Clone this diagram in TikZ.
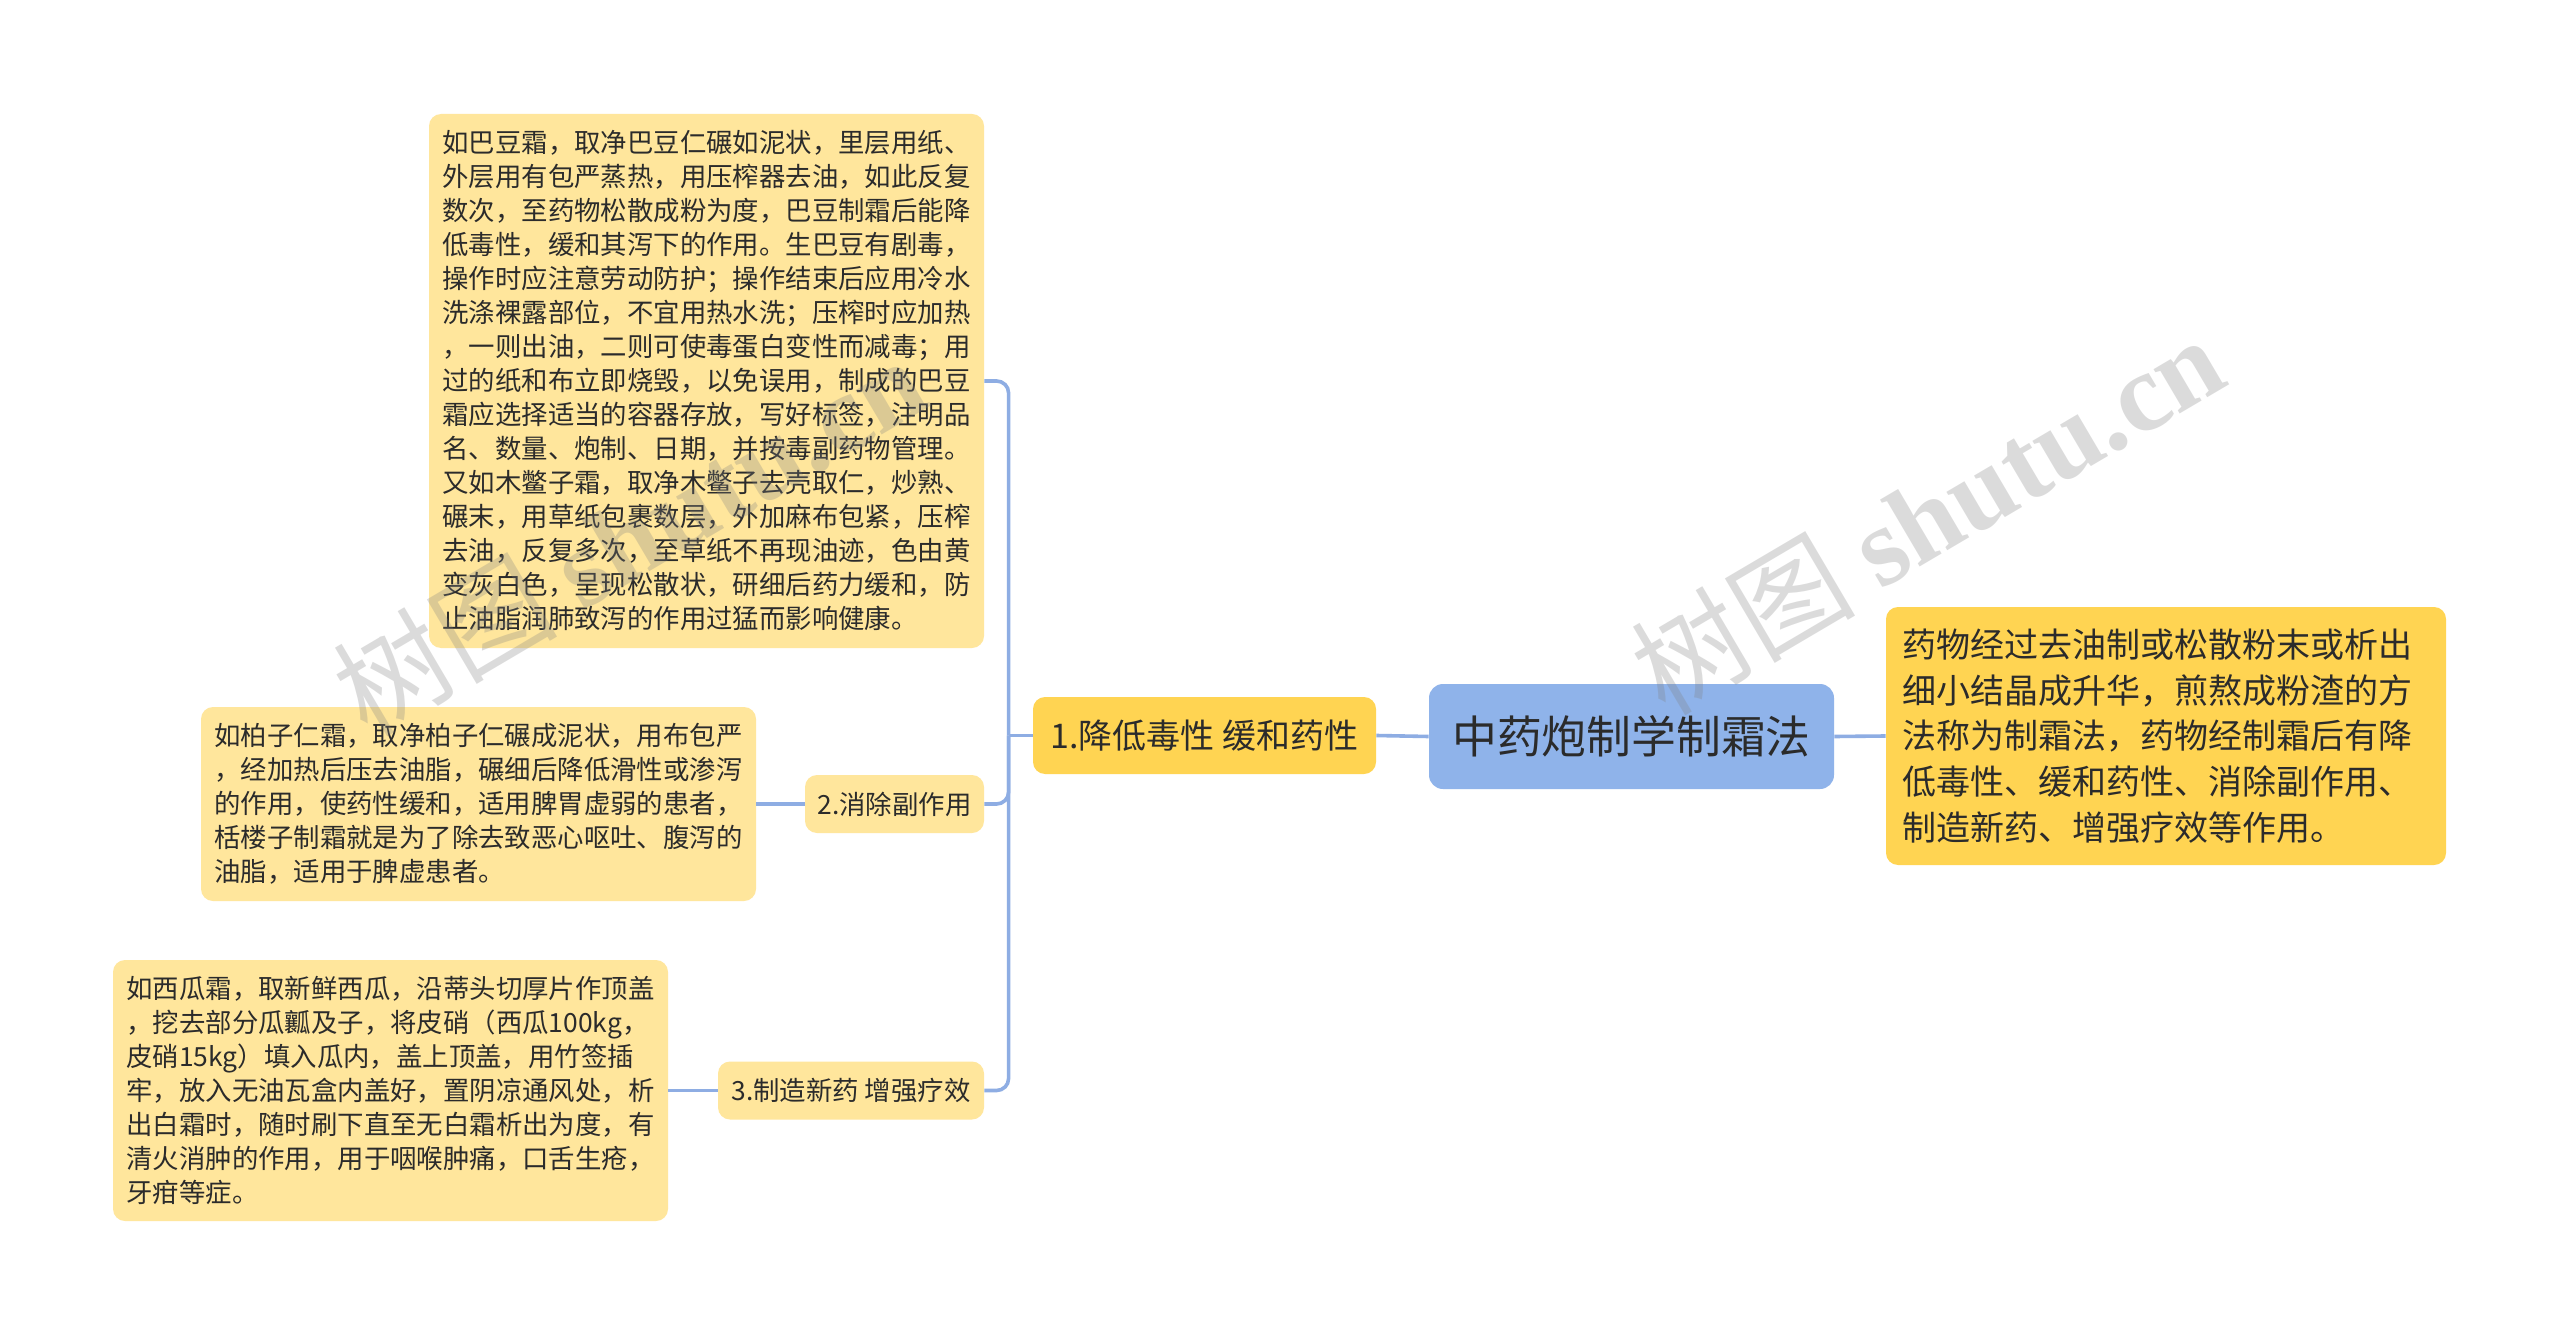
\documentclass[tikz,border=0pt]{standalone}
\usepackage{fontspec}
\setmainfont{Noto Sans CJK SC}
\newfontfamily\wmserif{Liberation Serif}
\usetikzlibrary{calc}

\definecolor{linkblue}{HTML}{8EADE3}
\definecolor{rootblue}{HTML}{8FB3EA}
\definecolor{goldfill}{HTML}{FFD452}
\definecolor{paleyellow}{HTML}{FFE69C}
\definecolor{inktext}{HTML}{2B2B2B}

\tikzset{
  link/.style={draw=linkblue, line width=1.8pt, rounded corners=6pt},
  rootbox/.style={rectangle, rounded corners=7pt, fill=rootblue, text=inktext,
    font=\fontsize{22.4}{26}\selectfont, minimum width=202.5pt, minimum height=52.5pt, inner sep=0pt},
  topicbox/.style={rectangle, rounded corners=6pt, fill=goldfill, text=inktext,
    font=\fontsize{17}{20}\selectfont, minimum width=171.5pt, minimum height=38.5pt, inner sep=0pt},
  subbox/.style={rectangle, rounded corners=6pt, fill=paleyellow, text=inktext,
    font=\fontsize{13.2}{16}\selectfont, minimum height=29pt, inner sep=0pt},
  notebox/.style={rectangle, rounded corners=6pt, fill=paleyellow, text=inktext,
    font=\fontsize{13.2}{17}\selectfont, align=left, text width=264pt, inner xsep=6.75pt, inner ysep=0pt},
  summarybox/.style={rectangle, rounded corners=6pt, fill=goldfill, text=inktext,
    font=\fontsize{17}{22.9}\selectfont, align=left, text width=264pt, inner xsep=8pt, inner ysep=0pt,
    minimum height=129pt},
  wmark/.style={text=gray, text opacity=0.28, rotate=30.5, font=\fontsize{56}{60}\selectfont}
}

\begin{document}
\begin{tikzpicture}[x=0.5pt, y=-0.5pt]
    \fill[white] (0,0) rectangle (2560,1337);
    \useasboundingbox (0,0) rectangle (2560,1337);

    % main topic and summary
    \node[rootbox] (root) at (1631.5,736.5) {中药炮制学制霜法};
    \node[summarybox] (summary) at (2166,736) {药物经过去油制或松散粉末或析出\\
      细小结晶成升华，煎熬成粉渣的方\\
      法称为制霜法，药物经制霜后有降\\
      低毒性、缓和药性、消除副作用、\\
      制造新药、增强疗效等作用。};

    % first level
    \node[topicbox] (lower) at (1204.5,735.5) {1.降低毒性 缓和药性};
    \node[subbox, minimum width=89.5pt] (side) at (894.5,804) {2.消除副作用};
    \node[subbox, minimum width=133pt] (newdrug) at (851,1090.5) {3.制造新药 增强疗效};

    % notes
    \node[notebox, minimum height=267pt] (badou) at (706.5,381) {如巴豆霜，取净巴豆仁碾如泥状，里层用纸、\\
      外层用有包严蒸热，用压榨器去油，如此反复\\
      数次，至药物松散成粉为度，巴豆制霜后能降\\
      低毒性，缓和其泻下的作用。生巴豆有剧毒，\\
      操作时应注意劳动防护；操作结束后应用冷水\\
      洗涤裸露部位，不宜用热水洗；压榨时应加热\\
      ，一则出油，二则可使毒蛋白变性而减毒；用\\
      过的纸和布立即烧毁，以免误用，制成的巴豆\\
      霜应选择适当的容器存放，写好标签，注明品\\
      名、数量、炮制、日期，并按毒副药物管理。\\
      又如木鳖子霜，取净木鳖子去壳取仁，炒熟、\\
      碾末，用草纸包裹数层，外加麻布包紧，压榨\\
      去油，反复多次，至草纸不再现油迹，色由黄\\
      变灰白色，呈现松散状，研细后药力缓和，防\\
      止油脂润肺致泻的作用过猛而影响健康。};
    \node[notebox, minimum height=97pt] (baizi) at (478.5,804) {如柏子仁霜，取净柏子仁碾成泥状，用布包严\\
      ，经加热后压去油脂，碾细后降低滑性或渗泻\\
      的作用，使药性缓和，适用脾胃虚弱的患者，\\
      栝楼子制霜就是为了除去致恶心呕吐、腹泻的\\
      油脂，适用于脾虚患者。};
    \node[notebox, minimum height=130.5pt] (xigua) at (390.5,1090.5) {如西瓜霜，取新鲜西瓜，沿蒂头切厚片作顶盖\\
      ，挖去部分瓜瓤及子，将皮硝（西瓜100kg，\\
      皮硝15kg）填入瓜内，盖上顶盖，用竹签插\\
      牢，放入无油瓦盒内盖好，置阴凉通风处，析\\
      出白霜时，随时刷下直至无白霜析出为度，有\\
      清火消肿的作用，用于咽喉肿痛，口舌生疮，\\
      牙疳等症。};

    % connectors
    \coordinate (hub) at ($(lower.west)+(-24,0)$);
    \draw[link] (root.west) -- (lower.east);
    \draw[link] (root.east) -- (summary.west);
    \draw[link] (lower.west) -- (hub);
    \draw[link] (hub) |- (badou.east);
    \draw[link] (hub) |- (side.east);
    \draw[link] (hub) |- (newdrug.east);
    \draw[link] (side.west) -- (baizi.east);
    \draw[link] (newdrug.west) -- (xigua.east);

    % watermarks
    \node[wmark] (wmleft) at (629,535) {树图 {\wmserif\bfseries shutu.cn}};
    \node[wmark] (wmright) at (1927,514) {树图 {\wmserif\bfseries shutu.cn}};
\end{tikzpicture}
\end{document}
